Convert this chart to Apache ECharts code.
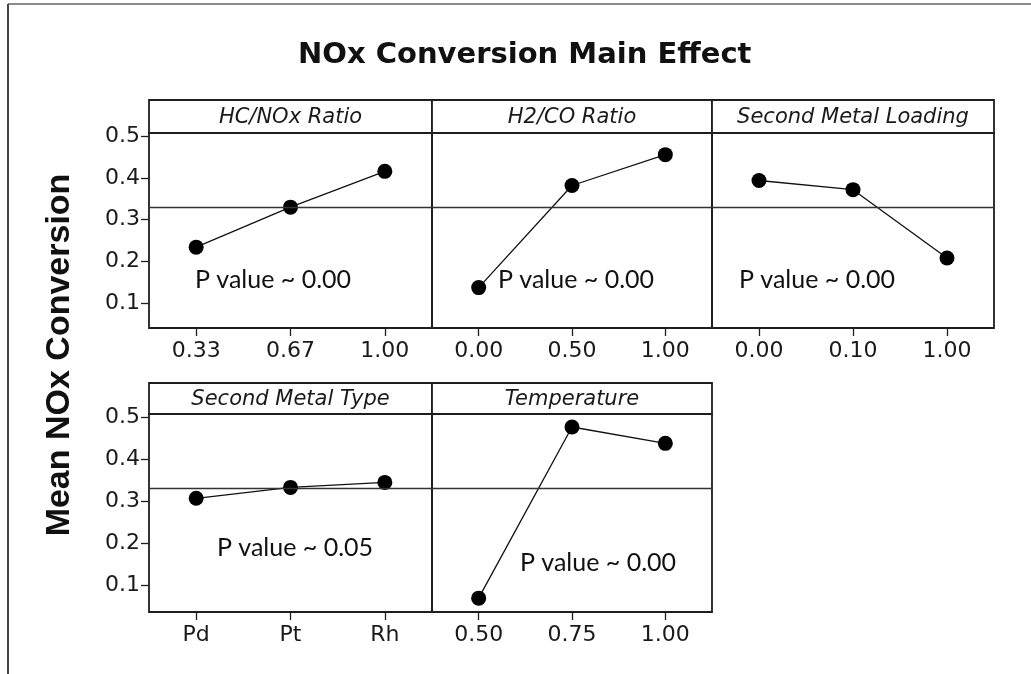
<!DOCTYPE html>
<html>
<head>
<meta charset="utf-8">
<script src="https://cdn.jsdelivr.net/npm/echarts@6/dist/echarts.min.js"></script>
<style>
html,body{margin:0;padding:0;background:#fff;}
#chart{width:1031px;height:674px;}
</style>
</head>
<body>
<div id="chart"></div>
<script>
// ---- data ----
const titleText = 'NOx Conversion Main Effect';
const yAxisTitle = 'Mean NOx Conversion';
const yTicks = [0.1, 0.2, 0.3, 0.4, 0.5];
const grandMean = 0.327;

const hcnoxName = 'HC/NOx Ratio';
const hcnoxCats = ['0.33', '0.67', '1.00'];
const hcnoxVals = [0.234, 0.330, 0.416];
const hcnoxP = 'P value ~ 0.00';

const h2coName = 'H2/CO Ratio';
const h2coCats = ['0.00', '0.50', '1.00'];
const h2coVals = [0.137, 0.382, 0.456];
const h2coP = 'P value ~ 0.00';

const loadName = 'Second Metal Loading';
const loadCats = ['0.00', '0.10', '1.00'];
const loadVals = [0.394, 0.372, 0.208];
const loadP = 'P value ~ 0.00';

const typeName = 'Second Metal Type';
const typeCats = ['Pd', 'Pt', 'Rh'];
const typeVals = [0.307, 0.333, 0.345];
const typeP = 'P value ~ 0.05';

const tempName = 'Temperature';
const tempCats = ['0.50', '0.75', '1.00'];
const tempVals = [0.069, 0.477, 0.438];
const tempP = 'P value ~ 0.00';

// ---- layout ----
const rows = [
  {stripTop: 100, top: 133, height: 195, min: 0.040, max: 0.508},
  {stripTop: 383, top: 414, height: 198, min: 0.036, max: 0.508}
];
const cols = [{left: 149, width: 283}, {left: 432, width: 280}, {left: 712, width: 282}];

const panels = [
  {name: hcnoxName, cats: hcnoxCats, vals: hcnoxVals, p: hcnoxP, r: 0, c: 0, px: 273, py: 280},
  {name: h2coName, cats: h2coCats, vals: h2coVals, p: h2coP, r: 0, c: 1, px: 576, py: 280},
  {name: loadName, cats: loadCats, vals: loadVals, p: loadP, r: 0, c: 2, px: 817, py: 280},
  {name: typeName, cats: typeCats, vals: typeVals, p: typeP, r: 1, c: 0, px: 295, py: 548},
  {name: tempName, cats: tempCats, vals: tempVals, p: tempP, r: 1, c: 1, px: 598, py: 563}
];

const ink = '#1e1e1e';
const tickFont = 'DejaVu Sans';

const grids = [], xAxes = [], yAxes = [], series = [], graphics = [];

// outer frame lines
graphics.push({type: 'line', shape: {x1: 8, y1: 4, x2: 1031, y2: 4}, style: {stroke: '#8a8a8a', lineWidth: 2}, silent: true});
graphics.push({type: 'line', shape: {x1: 8, y1: 4, x2: 8, y2: 674}, style: {stroke: '#444', lineWidth: 2}, silent: true});

panels.forEach((p, i) => {
  const row = rows[p.r], col = cols[p.c];
  grids.push({left: col.left, top: row.top, width: col.width, height: row.height,
    show: true, borderColor: ink, borderWidth: 1.8, backgroundColor: 'transparent'});
  xAxes.push({type: 'category', gridIndex: i, data: p.cats, boundaryGap: true,
    axisLine: {show: false},
    axisTick: {show: true, alignWithLabel: true, length: 8, lineStyle: {color: ink, width: 1.3}},
    axisLabel: {fontFamily: tickFont, fontSize: 22, color: '#1a1a1a', margin: 12},
    splitLine: {show: false}});
  const showY = p.c === 0;
  yAxes.push({type: 'value', gridIndex: i, min: row.min, max: row.max,
    axisLine: {show: false},
    axisTick: {show: showY, length: 8, customValues: yTicks, lineStyle: {color: ink, width: 1.3}},
    axisLabel: {show: showY, customValues: yTicks, fontFamily: tickFont, fontSize: 22, color: '#1a1a1a', margin: 9,
      formatter: v => v.toFixed(1)},
    splitLine: {show: false}});
  series.push({type: 'line', xAxisIndex: i, yAxisIndex: i, data: p.vals,
    symbol: 'circle', symbolSize: 15, showSymbol: true,
    itemStyle: {color: '#000'}, lineStyle: {color: '#111', width: 1.3},
    animation: false, silent: true,
    markLine: {silent: true, symbol: 'none', label: {show: false},
      lineStyle: {color: '#333', width: 1.3, type: 'solid'},
      data: [{yAxis: grandMean}]}});
  // strip header
  graphics.push({type: 'rect', shape: {x: col.left, y: row.stripTop, width: col.width, height: row.top - row.stripTop},
    style: {fill: '#fff', stroke: ink, lineWidth: 1.8}, silent: true, z: 5});
  graphics.push({type: 'text', x: col.left + col.width / 2, y: row.stripTop + (row.top - row.stripTop) / 2 + 1,
    style: {text: p.name, font: 'italic 21px "DejaVu Sans"', fill: '#1a1a1a', textAlign: 'center', textVerticalAlign: 'middle'},
    silent: true, z: 6});
  // p value annotation
  graphics.push({type: 'text', x: p.px, y: p.py,
    style: {text: p.p, font: '25px Lato', fill: '#111', textAlign: 'center', textVerticalAlign: 'middle'},
    silent: true, z: 6});
});

// y axis title
graphics.push({type: 'text', x: 60, y: 355, rotation: Math.PI / 2,
  style: {text: yAxisTitle, font: 'bold 34px "Liberation Sans"', fill: '#111', textAlign: 'center', textVerticalAlign: 'middle'},
  silent: true});

const chart = echarts.init(document.getElementById('chart'), null, {renderer: 'canvas'});
chart.setOption({
  animation: false,
  backgroundColor: '#fff',
  title: {text: titleText, left: 293, top: 36,
    textStyle: {fontFamily: 'DejaVu Sans', fontWeight: 'bold', fontSize: 29, color: '#111'}},
  grid: grids, xAxis: xAxes, yAxis: yAxes, series: series, graphic: graphics
});
</script>
</body>
</html>
